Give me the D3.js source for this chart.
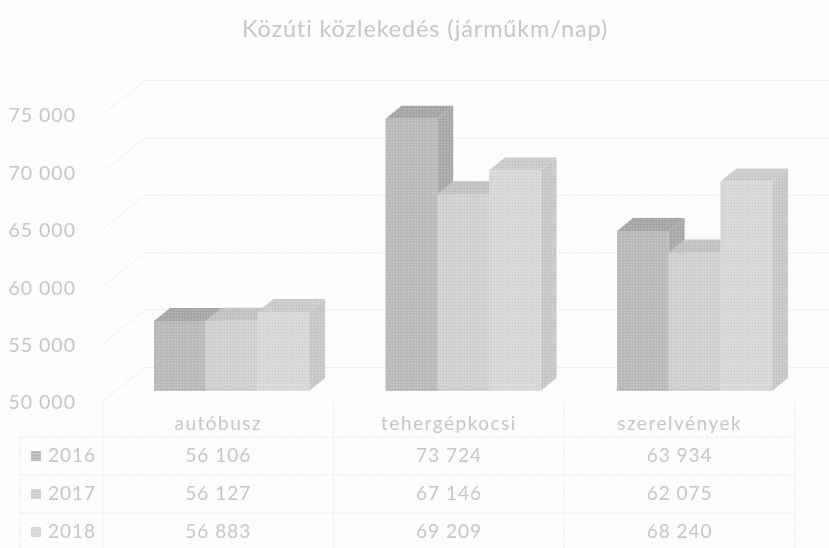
<!DOCTYPE html>
<html>
<head>
<meta charset="utf-8">
<script src="https://cdn.jsdelivr.net/npm/d3@7"></script>
<style>
html, body { margin: 0; padding: 0; background: #fdfdfd; overflow: hidden; }
text { font-family: Lato, "Open Sans", sans-serif; fill: #c6c6c6; letter-spacing: 1px; }
</style>
</head>
<body>
<script>
var title = 'Közúti közlekedés (járműkm/nap)';
var categories = ['autóbusz', 'tehergépkocsi', 'szerelvények'];
var years = ['2016', '2017', '2018'];
var values2016 = [56106, 73724, 63934];
var values2017 = [56127, 67146, 62075];
var values2018 = [56883, 69209, 68240];
var yTicks = [50000, 55000, 60000, 65000, 70000, 75000];
var front = ['#bababa', '#d0d0d0', '#d8d8d8'];
var topFace = ['#a6a6a6', '#c2c2c2', '#cbcbcb'];
var sideFace = ['#a9a9a9', '#c4c4c4', '#c8c8c8'];

var W = 829, H = 548;
var series = [values2016, values2017, values2018];
var fmt = function(d) { return d3.format(',')(d).replace(',', ' '); };

var svg = d3.select('body').append('svg')
    .attr('width', W)
    .attr('height', H);

var defs = svg.append('defs');
var soft = defs.append('filter').attr('id', 'soft');
soft.append('feGaussianBlur').attr('stdDeviation', 0.5);
var softText = defs.append('filter').attr('id', 'softText');
softText.append('feGaussianBlur').attr('stdDeviation', 0.5);

// halftone from the scan
function halftone(id, color) {
    var p = defs.append('pattern')
        .attr('id', id)
        .attr('width', 3)
        .attr('height', 3)
        .attr('patternUnits', 'userSpaceOnUse');
    p.append('rect').attr('width', 3).attr('height', 3).attr('fill', color);
    p.append('rect').attr('width', 1.4).attr('height', 1.4).attr('fill', '#fff').attr('opacity', 0.2);
    p.append('rect').attr('x', 2).attr('y', 2).attr('width', 1).attr('height', 1).attr('fill', '#000').attr('opacity', 0.05);
}
years.forEach(function(y, i) {
    halftone('front' + i, front[i]);
    halftone('top' + i, topFace[i]);
    halftone('side' + i, sideFace[i]);
});

// y is measured on the front edge of the side wall
var y = d3.scaleLinear().domain([50000, 75000]).range([402, 115]);
var wallX = 102, wallDx = 43, wallDy = 34.5;
var barLift = 11, barDx = 16, barDy = 13;

var x0 = d3.scaleBand().domain(categories).range([77.6, 848.5]).padding(0.33);
var x1 = d3.scaleBand().domain(years).range([0, x0.bandwidth()]);
var col = d3.scaleBand().domain(categories).range([103, 795]);

svg.append('text')
    .attr('x', 425)
    .attr('y', 37)
    .attr('text-anchor', 'middle')
    .attr('filter', 'url(#softText)')
    .style('font-size', '23.5px')
    .style('letter-spacing', '0.85px')
    .text(title);

var walls = svg.append('g')
    .attr('fill', 'none')
    .attr('stroke', '#ebebeb')
    .attr('stroke-dasharray', '5 1')
    .attr('filter', 'url(#soft)');

yTicks.forEach(function(t) {
    walls.append('path')
        .attr('d', 'M' + [wallX, y(t)] + ' L' + [wallX + wallDx, y(t) - wallDy] + ' L' + [W, y(t) - wallDy]);
});

var axis = d3.axisLeft(y).tickValues(yTicks).tickSize(0).tickPadding(0).tickFormat(fmt);
var axisG = svg.append('g')
    .attr('transform', 'translate(76,0)')
    .attr('filter', 'url(#softText)')
    .call(axis);
axisG.select('.domain').remove();
axisG.selectAll('text').style('font-size', '19.5px').attr('dy', '0.35em');
axisG.attr('font-family', null);

var bars = svg.append('g').attr('filter', 'url(#soft)');
categories.forEach(function(c, ci) {
    years.forEach(function(yr, i) {
        var xa = x0(c) + x1(yr), xb = xa + x1.bandwidth();
        var top = y(series[i][ci]) - barLift, bottom = y(50000) - barLift;
        bars.append('path')
            .attr('fill', 'url(#side' + i + ')')
            .attr('d', 'M' + [xb, top] + ' L' + [xb + barDx, top - barDy] + ' L' + [xb + barDx, bottom - barDy] + ' L' + [xb, bottom] + 'Z');
        bars.append('path')
            .attr('fill', 'url(#top' + i + ')')
            .attr('d', 'M' + [xa, top] + ' L' + [xa + barDx, top - barDy] + ' L' + [xb + barDx, top - barDy] + ' L' + [xb, top] + 'Z');
        bars.append('rect')
            .attr('x', xa)
            .attr('y', top)
            .attr('width', x1.bandwidth())
            .attr('height', bottom - top)
            .attr('fill', 'url(#front' + i + ')');
    });
});

// data table under the chart
var rowY = d3.scaleBand().domain(years).range([437, 551]);
var table = svg.append('g')
    .attr('stroke', '#ececec')
    .attr('fill', 'none')
    .attr('stroke-dasharray', '4 1')
    .attr('filter', 'url(#soft)');
[col.range()[0]].concat(categories.map(function(c) { return col(c) + col.bandwidth(); })).forEach(function(xv) {
    table.append('path').attr('d', 'M' + [xv, 402] + ' L' + [xv, H]);
});
table.append('path').attr('d', 'M' + [20, 437] + ' L' + [20, H]);
years.forEach(function(yr) {
    table.append('path').attr('d', 'M' + [20, rowY(yr)] + ' L' + [795, rowY(yr)]);
});

var labels = svg.append('g').attr('filter', 'url(#softText)').style('font-size', '19px');
categories.forEach(function(c) {
    labels.append('text')
        .attr('x', col(c) + col.bandwidth() / 2)
        .attr('y', 430)
        .attr('text-anchor', 'middle')
        .style('letter-spacing', '1.5px')
        .text(c);
});
years.forEach(function(yr, i) {
    var cy = rowY(yr) + rowY.bandwidth() / 2;
    labels.append('rect')
        .attr('x', 31)
        .attr('y', cy - 5)
        .attr('width', 10)
        .attr('height', 10)
        .attr('fill', 'url(#front' + i + ')');
    labels.append('text')
        .attr('x', 48)
        .attr('y', cy + 6)
        .text(yr);
    categories.forEach(function(c, ci) {
        labels.append('text')
            .attr('x', col(c) + col.bandwidth() / 2)
            .attr('y', cy + 6)
            .attr('text-anchor', 'middle')
            .text(fmt(series[i][ci]));
    });
});
</script>
</body>
</html>
